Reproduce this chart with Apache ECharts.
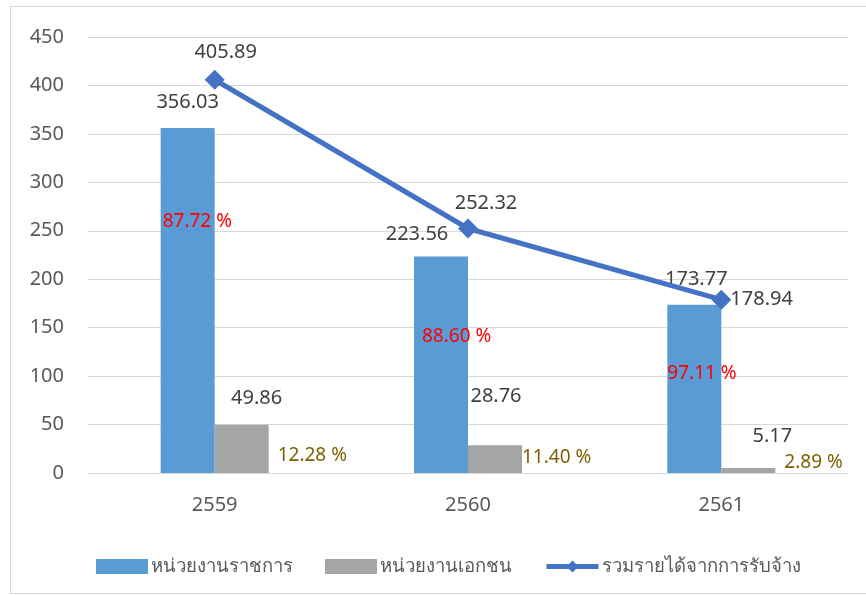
<!DOCTYPE html>
<html>
<head>
<meta charset="utf-8">
<script src="https://cdn.jsdelivr.net/npm/echarts@6/dist/echarts.min.js"></script>
<style>
    html, body { margin: 0; padding: 0; background: #fff; }
    #frame { position: absolute; left: 10px; top: 6px; width: 870px; height: 586px; border: 1px solid #d9d9d9; }
    #chart { position: absolute; left: 0; top: 0; width: 866px; height: 595px; }
</style>
</head>
<body>
<div id="frame"></div>
<div id="chart"></div>
<script>
    // ข้อมูล
    var years = ['2559', '2560', '2561'];
    var govValues = [356.03, 223.56, 173.77];
    var privValues = [49.86, 28.76, 5.17];
    var totalValues = [405.89, 252.32, 178.94];
    var govPct = ['87.72 %', '88.60 %', '97.11 %'];
    var privPct = ['12.28 %', '11.40 %', '2.89 %'];
    var yTicks = [0, 50, 100, 150, 200, 250, 300, 350, 400, 450];

    var seriesNames = ['หน่วยงานราชการ', 'หน่วยงานเอกชน', 'รวมรายได้จากการรับจ้าง'];

    var font = '"Noto Sans", "Open Sans", sans-serif';
    var textColor = '#404040';

    // label tweaks (ย้ายป้ายแบบ excel)
    var govOffsets = [[0, -11], [-24, -7], [2, -10]];
    var privOffsets = [[15, -11], [1, -34], [24, -17]];
    var totalOffsets = [[11, -2], [18, 0], [-6, 0]];
    var govPctPos = [[2, 94], [8, 80], [0, 69]];
    var privPctPos = [[63, 31], [54, 12], [63, -5]];

    var chart = echarts.init(document.getElementById('chart'));

    var govData = govValues.map(function (v, i) {
        return { value: v, label: { offset: govOffsets[i] } };
    });
    var privData = privValues.map(function (v, i) {
        return { value: v, label: { offset: privOffsets[i] } };
    });
    var totalData = totalValues.map(function (v, i) {
        return { value: v, label: { offset: totalOffsets[i], position: i === 2 ? 'right' : 'top' } };
    });
    var govPctData = govValues.map(function (v, i) {
        return { value: v, label: { position: govPctPos[i], formatter: govPct[i] } };
    });
    var privPctData = privValues.map(function (v, i) {
        return { value: v, label: { position: privPctPos[i], formatter: privPct[i] } };
    });

    var option = {
        animation: false,
        textStyle: { fontFamily: font },
        grid: { left: 88, right: 18, top: 37, bottom: 122 },
        legend: {
            data: [
                { name: seriesNames[0], icon: 'rect' },
                { name: seriesNames[1], icon: 'rect' },
                { name: seriesNames[2], lineStyle: { width: 5 } }
            ],
            top: 552,
            left: 91,
            itemWidth: 52,
            itemHeight: 15,
            itemGap: 32,
            textStyle: { fontSize: 18.5, color: '#595959', fontFamily: font, padding: [0, 0, 0, -2] }
        },
        xAxis: [{
            type: 'category',
            data: years,
            axisTick: { show: false },
            axisLine: { lineStyle: { color: '#d9d9d9', width: 1 } },
            axisLabel: { fontSize: 20, color: '#595959', margin: 22 }
        }, {
            type: 'category',
            data: years,
            show: false
        }],
        yAxis: {
            type: 'value',
            min: 0,
            max: yTicks[yTicks.length - 1],
            interval: 50,
            axisLine: { show: false },
            axisTick: { show: false },
            splitLine: { lineStyle: { color: '#d9d9d9', width: 1 } },
            axisLabel: { fontSize: 20, color: '#595959', margin: 24 }
        },
        series: [{
            name: seriesNames[0],
            type: 'bar',
            data: govData,
            barWidth: 54,
            barGap: '0%',
            itemStyle: { color: '#5b9bd5' },
            label: { show: true, position: 'top', fontSize: 20, color: textColor }
        }, {
            name: seriesNames[1],
            type: 'bar',
            data: privData,
            barWidth: 54,
            barGap: '0%',
            itemStyle: { color: '#a5a5a5' },
            label: { show: true, position: 'top', fontSize: 20, color: textColor }
        }, {
            name: 'pct1',
            type: 'bar',
            xAxisIndex: 1,
            data: govPctData,
            barWidth: 54,
            barGap: '0%',
            silent: true,
            z: 5,
            itemStyle: { color: 'rgba(0,0,0,0)' },
            label: { show: true, fontSize: 19, color: '#ff0000', align: 'left', verticalAlign: 'middle' }
        }, {
            name: 'pct2',
            type: 'bar',
            xAxisIndex: 1,
            data: privPctData,
            barWidth: 54,
            barGap: '0%',
            silent: true,
            z: 5,
            itemStyle: { color: 'rgba(0,0,0,0)' },
            label: { show: true, fontSize: 19, color: '#7f6000', align: 'left', verticalAlign: 'middle' }
        }, {
            name: seriesNames[2],
            type: 'line',
            data: totalData,
            symbol: 'diamond',
            symbolSize: 20,
            z: 10,
            lineStyle: { color: '#4472c4', width: 5 },
            itemStyle: { color: '#4472c4' },
            label: { show: true, fontSize: 20, color: textColor }
        }]
    };

    chart.setOption(option);
</script>
</body>
</html>
